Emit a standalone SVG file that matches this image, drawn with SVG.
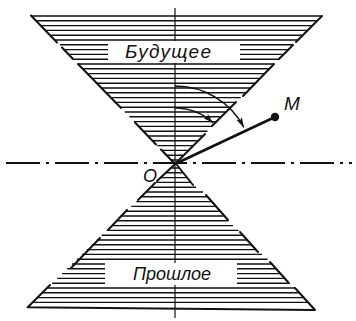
<svg xmlns="http://www.w3.org/2000/svg" width="356" height="321" viewBox="0 0 356 321">
<style>
.hatch{fill:none;stroke:#111;stroke-width:1.4}
.edge{fill:none;stroke:#111;stroke-width:2;stroke-linecap:round}
.axis{fill:none;stroke:#111;stroke-width:1.2}
.dash{fill:none;stroke:#111;stroke-width:1.8;stroke-dasharray:34 6 3 6}
.arc{fill:none;stroke:#111;stroke-width:1.5}
.lbl{font-family:"Liberation Sans","DejaVu Sans",sans-serif;font-style:italic;fill:#111}
</style>
<defs>
<marker id="arrow" viewBox="0 0 10 6" refX="10" refY="3" markerWidth="10" markerHeight="6" markerUnits="userSpaceOnUse" orient="auto">
<path d="M0,0 L10,3 L0,6 L2,3 z" fill="#111"/>
</marker>
</defs>
<rect width="356" height="321" fill="#fff"/>

<g id="future-cone">
<path class="hatch" d="M31,16H321.5 M36.7,20.8H316.8 M41.3,25.6H312 M45.9,30.4H307.3 M50.6,35.2H302.5 M55.2,40H297.8
M59.9,44.8H108 M240,44.8H293 M64.5,49.6H108 M240,49.6H288.3 M69.1,54.4H108 M240,54.4H283.5 M73.8,59.2H108 M240,59.2H278.8
M78.4,64H274 M83,68.8H269.2 M87.7,73.6H264.5 M92.3,78.4H259.7 M96.9,83.2H255 M101.6,88H250.2 M106.2,92.8H245.5 M110.9,97.6H240.7
M115.5,102.4H236 M120.1,107.2H231.2 M124.8,112H226.5 M129.4,116.8H221.7 M134,121.6H217 M138.7,126.4H212.2 M143.3,131.2H207.5
M148,136H202.7 M152.6,140.8H198 M157.2,145.6H193.2 M161.9,150.4H188.5 M166.5,155.2H183.7 M171.1,160H179"/>
<path class="edge" d="M31,15.5L57,42.5 M62,47.5L73,59 M78,64L121,108 M135,122.5L156,144.5 M161,149.5L175,164
M322,16L296,42 M293,45L279,59 M274,64L243,96 M236,102L212,126 M205,134L175,164"/>
<text class="lbl" x="125" y="58" font-size="19" textLength="86" lengthAdjust="spacing">Будущее</text>
</g>

<g id="past-cone">
<path class="hatch" d="M170.9,168H180 M165.9,172.8H183.7 M161,177.6H187.4 M156,182.4H191 M151.1,187.2H196 M146.2,192H203
M141.2,196.8H207.6 M136.3,201.6H211.8 M131.3,206.4H216 M126.4,211.2H220.3 M121.4,216H224.5 M116.5,220.8H228.7
M111.6,225.6H233 M106.6,230.4H238.6 M101.7,235.2H242.9 M96.7,240H247.2 M91.8,244.8H251.5 M86.8,249.6H255.8
M81.9,254.4H262 M76.9,259.2H267.5
M72,264H105 M237,264H271.8 M67.1,268.8H105 M237,268.8H276.1 M62.1,273.6H105 M237,273.6H280.4 M57.2,278.4H105 M237,278.4H284.8 M52.2,283.2H105 M237,283.2H290
M47.3,288H295 M42.3,292.8H299.4 M37.4,297.6H303.7 M32.4,302.4H308.1"/>
<path class="edge" d="M27.5,307.2L315,310 M174,165L157,181 M155,183L138,200 M127,210L108,230 M100,238L71,268 M50,285L28,307
M177,165L193,185 M206,195L228,220 M240,232L258,252 M270,262L288,282 M295,288L315,310"/>
<text class="lbl" x="133" y="280" font-size="18" textLength="78" lengthAdjust="spacing">Прошлое</text>
</g>

<g id="axes">
<path class="axis" d="M175,8V41 M175,63V263 M175,285V318"/>
<path class="dash" d="M6,163H352"/>
</g>

<g id="connectors">
<path d="M175,164L275,117" fill="none" stroke="#111" stroke-width="2.6"/>
<path class="arc" d="M175,108A56,56 0 0 1 213.2,123" marker-end="url(#arrow)"/>
<path class="arc" d="M175,86A78,78 0 0 1 243.9,127.4" marker-end="url(#arrow)"/>
</g>

<g id="point-M">
<circle cx="275" cy="117" r="4.2" fill="#111"/>
<text class="lbl" x="284" y="110" font-size="19">M</text>
</g>

<g id="origin-O">
<text class="lbl" x="143" y="182" font-size="18">O</text>
</g>
</svg>
